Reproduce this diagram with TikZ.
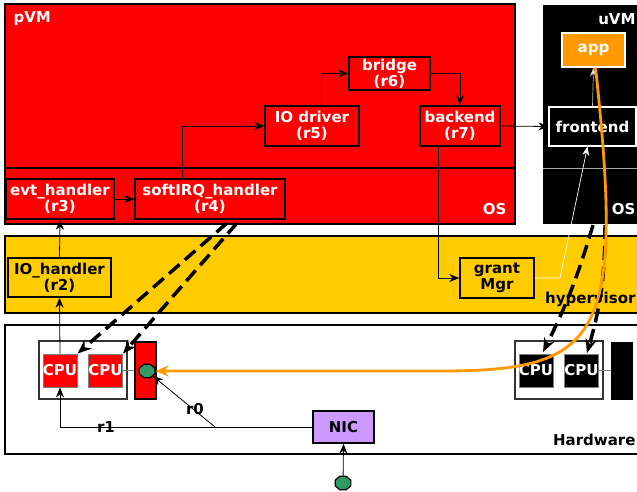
\documentclass[tikz,border=0pt]{standalone}
\usepackage{fontspec}
\setmainfont{DejaVu Sans}
\usetikzlibrary{arrows.meta,shapes.geometric}

\definecolor{vmred}{HTML}{FF0000}
\definecolor{hvyellow}{HTML}{FFCC00}
\definecolor{apporange}{HTML}{FF9900}
\definecolor{nicpurple}{HTML}{CC99FF}
\definecolor{portgreen}{HTML}{339966}

\tikzset{
  lbl/.style={font=\fontsize{15}{16}\selectfont\bfseries},
  redbox/.style={draw=black, line width=1.5pt, fill=vmred, text=white, lbl, align=center, inner sep=0pt},
  blkbox/.style={draw=white, line width=1.2pt, fill=black, text=white, lbl, align=center, inner sep=0pt},
  ylwbox/.style={draw=black, line width=1.5pt, fill=hvyellow, text=black, lbl, align=center, inner sep=0pt},
  cpubox/.style={draw=gray, line width=0.8pt, text=white, lbl, inner sep=0pt, minimum width=34pt, minimum height=33pt},
  port/.style={regular polygon, regular polygon sides=8, draw=black, line width=1.2pt, fill=portgreen, inner sep=0pt, minimum width=17pt, yscale=0.85},
  conn/.style={-{Stealth[length=10pt,width=8pt]}, line width=0.8pt},
  irq/.style={-{Stealth[length=14pt,width=11pt]}, line width=3.5pt, dash pattern=on 14pt off 7pt}
}

\begin{document}
\begin{tikzpicture}[x=1pt, y=-1pt]
    \useasboundingbox (0,0) rectangle (637,491);

    % les grands blocs
    \draw[line width=1.5pt, fill=vmred] (5,4) rectangle (515,224);
    \draw[line width=1.5pt] (5,168) -- (515,168);
    \fill[black] (543,5) rectangle (645,224);
    \draw[gray!70, line width=1pt] (543,168) -- (645,168);
    \draw[line width=1.5pt, fill=hvyellow] (5,236) rectangle (645,313);
    \draw[line width=1.5pt, fill=white] (5,325) rectangle (645,454);

    \node[lbl, text=white, anchor=west] (pvmlbl) at (10,19) {pVM};
    \node[lbl, text=white, anchor=east] (pvmos) at (510,209) {OS};
    \node[lbl, text=white, anchor=east] (uvmlbl) at (639,19) {uVM};
    \node[lbl, text=white, anchor=east] (uvmos) at (639,209) {OS};
    \node[lbl, anchor=east] (hvlbl) at (639,299) {hypervisor};
    \node[lbl, anchor=east] (hwlbl) at (639,440) {Hardware};

    % pVM
    \node[redbox, minimum width=81pt, minimum height=33pt] (bridge) at (389.5,73.5) {bridge\\(r6)};
    \node[redbox, minimum width=94pt, minimum height=40pt] (iodrv) at (312,126) {IO driver\\(r5)};
    \node[redbox, minimum width=80pt, minimum height=40pt] (backend) at (460,126) {backend\\(r7)};
    \node[redbox, minimum width=108pt, minimum height=40pt] (evt) at (60,199) {evt\_handler\\(r3)};
    \node[redbox, minimum width=150pt, minimum height=40pt] (softirq) at (210,199) {softIRQ\_handler\\(r4)};

    % uVM
    \node[blkbox, fill=apporange, minimum width=63pt, minimum height=34pt] (app) at (593.5,50) {app};
    \node[blkbox, minimum width=87pt, minimum height=39pt] (frontend) at (592.5,126.5) {frontend};

    % hypervisor
    \node[ylwbox, minimum width=103pt, minimum height=39pt] (iohandler) at (59.5,277.5) {IO\_handler\\(r2)};
    \node[ylwbox, minimum width=74pt, minimum height=40pt] (grant) at (497,278) {grant\\Mgr};

    % hardware
    \node[draw=black!80, line width=1.2pt, fill=white, minimum width=88pt, minimum height=58pt] (grpl) at (83,370) {};
    \node[cpubox, fill=vmred] (cpua) at (60,370.5) {CPU};
    \node[cpubox, fill=vmred] (cpub) at (105.5,370.5) {CPU};
    \node[draw=black, line width=1.5pt, fill=vmred, minimum width=21pt, minimum height=57pt] (barl) at (145.5,370.5) {};
    \node[port] (portl) at (147,371) {};
    \draw[gray, line width=0.8pt] (cpub.east) -- (barl.west);

    \node[draw=black!80, line width=1.2pt, fill=white, minimum width=88pt, minimum height=58pt] (grpr) at (559,370) {};
    \node[cpubox, fill=black] (cpuc) at (536,370.5) {CPU};
    \node[cpubox, fill=black] (cpud) at (581.5,370.5) {CPU};
    \node[draw=black, line width=1pt, fill=black, minimum width=21pt, minimum height=57pt] (barr) at (621.5,370.5) {};
    \draw[gray, line width=0.8pt] (cpud.east) -- (barr.west);

    \node[draw=black, line width=1.5pt, fill=nicpurple, lbl, minimum width=61pt, minimum height=32pt] (nic) at (343.5,427) {NIC};
    \node[port] (portn) at (343,483) {};

    % chemin du paquet
    \draw[conn] (portn) -- (nic.south);
    \coordinate (split) at (215,427);
    \draw[conn] (nic.west) -| (cpua.south);
    \node[lbl] (rone) at (106,427) {r1};
    \draw[conn] (split) -- (portl.south east);
    \node[lbl] (rzero) at (195,409) {r0};
    \draw[conn] (cpua.north) -- (iohandler.south);
    \draw[conn] (iohandler.north) -- (evt.south);
    \draw[conn] (evt.east) -- (softirq.west);
    \draw[conn] ([xshift=-28pt]softirq.north) |- (iodrv.west);
    \draw[conn] ([xshift=9pt]iodrv.north) |- (bridge.west);
    \draw[conn] (bridge.east) -| (backend.north);
    \draw[conn] (backend.east) -- (frontend.west);
    \draw[conn] ([xshift=-22pt]backend.south) |- (grant.west);

    \coordinate (gbend) at (560,278);
    \draw[white, line width=0.7pt, -{Stealth[length=9pt,width=7pt]}] (grant.east) -- (gbend) -- ([xshift=-5pt]frontend.south);
    \draw[gray!60, line width=0.7pt, -{Stealth[length=9pt,width=7pt,fill=white]}] (frontend.north) -- (app.south);

    % interruptions
    \coordinate (irqa) at (227,223);
    \coordinate (irqb) at (237,223);
    \coordinate (irqc) at (593,225);
    \coordinate (irqd) at (605,225);
    \draw[irq] (irqa) -- (cpua.north east);
    \draw[irq] (irqb) -- (cpub.north east);
    \draw[irq] (irqc) to[bend left=5] (543,352);
    \draw[irq] (irqd) to[bend left=8] (587,353);

    \draw[apporange, line width=2.8pt, -{Stealth[length=13pt,width=11pt]}] ([xshift=2pt]app.south) .. controls (625,340) and (600,371) .. (440,371) -- (portl.east);

\end{tikzpicture}
\end{document}
